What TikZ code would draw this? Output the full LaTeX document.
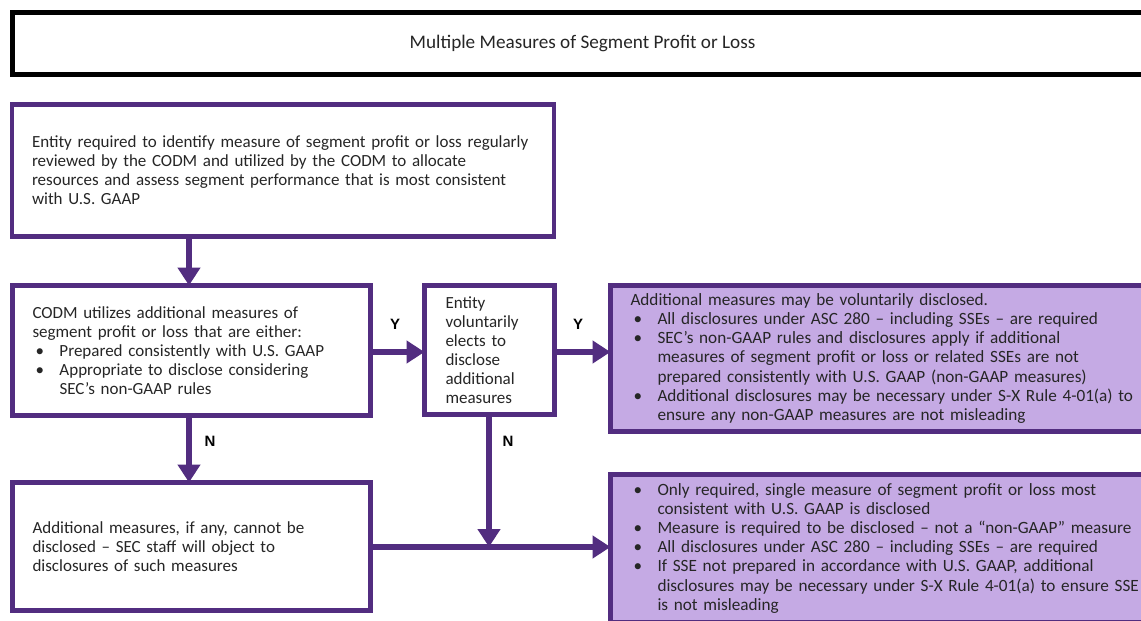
\documentclass[tikz,border=0pt]{standalone}
\usepackage{fontspec}
\setmainfont{Carlito}
\newfontfamily\lblfont{Liberation Sans}
\usetikzlibrary{arrows.meta,shadows}
\definecolor{pur}{RGB}{82,45,128}
\definecolor{lav}{RGB}{197,170,228}
\newcommand{\bl}{\makebox[27pt][l]{\hspace{3pt}\textbullet}}
\newcommand{\ind}{\hspace*{27pt}}
\newcommand{\Lx}[1]{\mbox{#1}}
\begin{document}
\begin{tikzpicture}[x=1pt,y=-1pt,
  box/.style={draw=pur, line width=4.5pt, fill=white, rectangle, outer sep=0pt,
    anchor=north west, align=left, inner ysep=0pt, text=black!85,
    font=\fontsize{17}{19}\selectfont,
    drop shadow={shadow xshift=1.5pt, shadow yshift=-2.5pt, opacity=0.25, fill=black}},
  fbox/.style={box, fill=lav, font=\fontsize{17.2}{19.2}\selectfont},
  arr/.style={draw=pur, line width=6pt, -{Triangle[width=22pt,length=18pt]}},
  lbl/.style={font=\lblfont\fontsize{15}{15}\selectfont\bfseries, text=black, inner sep=0pt}]
\useasboundingbox (0,0) rectangle (1141,621);
\clip (0,0) rectangle (1141,621);
\fill[white] (0,0) rectangle (1141,621);

\node[draw=black, line width=5pt, rectangle, outer sep=0pt, anchor=north west,
  minimum width=1140pt, minimum height=62pt, font=\fontsize{19.2}{20}\selectfont, text=black!85,
  drop shadow={shadow xshift=0pt, shadow yshift=-2pt, opacity=0.2, fill=black}, fill=white]
  (t) at (12.5,12.5) {Multiple Measures of Segment Profit or Loss};

\node[box, minimum width=542pt, minimum height=132pt, inner xsep=20pt, text width=502pt]
  (b1) at (12,104.5) {\Lx{Entity required to identify measure of segment profit or loss regularly}\\
\Lx{reviewed by the CODM and utilized by the CODM to allocate}\\
\Lx{resources and assess segment performance that is most consistent}\\
\Lx{with U.S. GAAP}};

\node[box, minimum width=358pt, minimum height=130pt, inner xsep=20pt, text width=318pt]
  (b2) at (12.5,285.5) {\Lx{CODM utilizes additional measures of}\\
\Lx{segment profit or loss that are either:}\\
\Lx{\bl Prepared consistently with U.S. GAAP}\\
\Lx{\bl Appropriate to disclose considering}\\
\Lx{\ind SEC’s non-GAAP rules}};

\node[box, minimum width=130pt, minimum height=129pt, inner xsep=21pt, text width=88pt]
  (b3) at (424.5,285.5) {Entity\\voluntarily\\elects to\\disclose\\additional\\measures};

\node[fbox, minimum width=560pt, minimum height=146pt, inner xsep=20pt, text width=520pt]
  (b4) at (610.5,285.5) {\Lx{Additional measures may be voluntarily disclosed.}\\
\Lx{\bl All disclosures under ASC 280 – including SSEs – are required}\\
\Lx{\bl SEC’s non-GAAP rules and disclosures apply if additional}\\
\Lx{\ind measures of segment profit or loss or related SSEs are not}\\
\Lx{\ind prepared consistently with U.S. GAAP (non-GAAP measures)}\\
\Lx{\bl Additional disclosures may be necessary under S-X Rule 4-01(a) to}\\
\Lx{\ind ensure any non-GAAP measures are not misleading}};

\node[box, minimum width=358pt, minimum height=128pt, inner xsep=20pt, text width=318pt]
  (b5) at (12.5,482.5) {\Lx{Additional measures, if any, cannot be}\\
\Lx{disclosed – SEC staff will object to}\\
\Lx{disclosures of such measures}};

\node[fbox, minimum width=560pt, minimum height=147.5pt, inner xsep=20pt, text width=520pt]
  (b6) at (610.5,474.5) {\Lx{\bl Only required, single measure of segment profit or loss most}\\
\Lx{\ind consistent with U.S. GAAP is disclosed}\\
\Lx{\bl Measure is required to be disclosed – not a “non-GAAP” measure}\\
\Lx{\bl All disclosures under ASC 280 – including SSEs – are required}\\
\Lx{\bl If SSE not prepared in accordance with U.S. GAAP, additional}\\
\Lx{\ind disclosures may be necessary under S-X Rule 4-01(a) to ensure SSE}\\
\Lx{\ind is not misleading}};

\coordinate (xa) at (189,0);
\coordinate (xb) at (489,0);
\coordinate (ya) at (0,352);
\coordinate (yb) at (0,547);
\coordinate (j) at (489,547);

\draw[arr] (b1.south -| xa) -- (b2.north -| xa);
\draw[arr] (b2.south -| xa) -- (b5.north -| xa);
\draw[arr] (b2.east |- ya) -- (b3.west |- ya);
\draw[arr] (b3.east |- ya) -- (b4.west |- ya);
\draw[arr] (b5.east |- yb) -- (b6.west |- yb);
\draw[arr] (b3.south -| xb) -- (j);

\node[lbl] (ly1) at (395,324) {Y};
\node[lbl] (ly2) at (578,324) {Y};
\node[lbl] (ln1) at (210,441) {N};
\node[lbl] (ln2) at (508,441) {N};
\end{tikzpicture}
\end{document}
